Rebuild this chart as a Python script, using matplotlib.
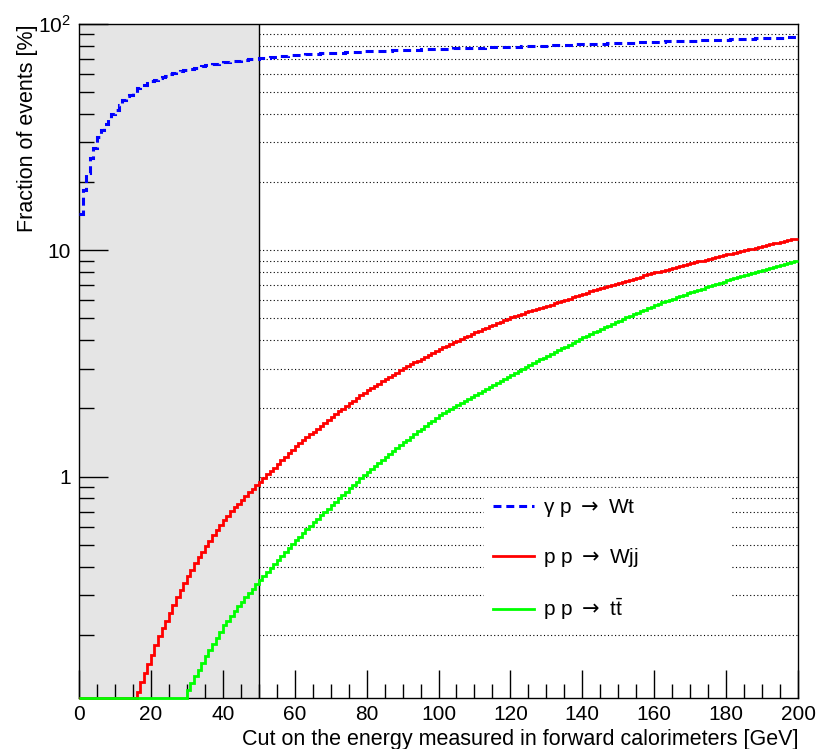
import numpy as np
import matplotlib
matplotlib.use('Agg')
import matplotlib.pyplot as plt
from matplotlib.lines import Line2D
from matplotlib.ticker import FixedLocator, FixedFormatter, NullFormatter, MultipleLocator

plt.rcParams['font.family'] = ['Liberation Sans', 'DejaVu Sans']
plt.rcParams['mathtext.fontset'] = 'custom'
plt.rcParams['mathtext.rm'] = 'Liberation Sans'
plt.rcParams['mathtext.sf'] = 'DejaVu Sans'
plt.rcParams['mathtext.default'] = 'regular'

# 1 GeV bins from 0 to 200 GeV, fraction of events passing the cut [%]
bin_edges = np.arange(0, 201)

gamma_p_wt = [
    14.4, 18.5, 22.0, 25.5, 28.4, 31.7, 33.9, 36.3, 38.2, 39.9,
    41.6, 43.8, 46.0, 47.9, 48.6, 49.3, 52.2, 52.8, 54.0, 55.0,
    55.9, 56.7, 57.5, 58.4, 59.2, 60.0, 60.6, 61.2, 61.8, 62.4,
    62.9, 63.5, 64.0, 64.6, 65.1, 65.6, 66.0, 66.4, 66.8, 67.2,
    67.6, 67.9, 68.3, 68.6, 68.9, 69.2, 69.5, 69.8, 70.0, 70.2,
    70.5, 70.8, 71.1, 71.4, 71.6, 71.9, 72.1, 72.4, 72.6, 72.8,
    73.0, 73.2, 73.3, 73.5, 73.6, 73.8, 73.9, 74.1, 74.2, 74.4,
    74.5, 74.6, 74.7, 74.8, 75.0, 75.1, 75.2, 75.3, 75.4, 75.6,
    75.7, 75.8, 75.9, 76.0, 76.1, 76.2, 76.3, 76.4, 76.5, 76.6,
    76.7, 76.8, 76.9, 77.0, 77.1, 77.2, 77.3, 77.3, 77.4, 77.5,
    77.6, 77.7, 77.8, 77.9, 78.0, 78.1, 78.2, 78.3, 78.3, 78.4,
    78.5, 78.6, 78.7, 78.8, 78.8, 78.9, 79.0, 79.0, 79.1, 79.2,
    79.3, 79.4, 79.5, 79.6, 79.7, 79.8, 79.9, 80.0, 80.1, 80.2,
    80.3, 80.4, 80.5, 80.6, 80.7, 80.8, 81.0, 81.1, 81.2, 81.3,
    81.4, 81.5, 81.6, 81.7, 81.8, 81.9, 82.0, 82.1, 82.2, 82.3,
    82.4, 82.5, 82.6, 82.7, 82.8, 82.9, 83.0, 83.1, 83.2, 83.3,
    83.4, 83.5, 83.6, 83.7, 83.8, 83.9, 84.0, 84.1, 84.2, 84.3,
    84.4, 84.5, 84.6, 84.7, 84.8, 84.9, 85.0, 85.1, 85.2, 85.3,
    85.4, 85.5, 85.6, 85.7, 85.8, 86.0, 86.1, 86.2, 86.3, 86.4,
    86.5, 86.6, 86.7, 86.8, 87.0, 87.1, 87.2, 87.4, 87.5, 87.7,
]

pp_wjj = [0.0] * 16 + [
    0.112, 0.124, 0.136, 0.148,
    0.163, 0.180, 0.197, 0.214, 0.231, 0.249, 0.270, 0.292, 0.316, 0.339,
    0.362, 0.387, 0.413, 0.439, 0.465, 0.491, 0.521, 0.551, 0.582, 0.613,
    0.644, 0.672, 0.701, 0.730, 0.759, 0.789, 0.820, 0.851, 0.884, 0.917,
    0.950, 0.985, 1.021, 1.058, 1.096, 1.136, 1.178, 1.220, 1.265, 1.311,
    1.358, 1.400, 1.444, 1.488, 1.534, 1.581, 1.630, 1.680, 1.732, 1.786,
    1.841, 1.891, 1.943, 1.996, 2.050, 2.106, 2.164, 2.223, 2.284, 2.346,
    2.410, 2.464, 2.520, 2.577, 2.635, 2.694, 2.755, 2.817, 2.880, 2.945,
    3.013, 3.072, 3.132, 3.194, 3.256, 3.319, 3.384, 3.450, 3.517, 3.586,
    3.656, 3.719, 3.783, 3.848, 3.914, 3.981, 4.050, 4.119, 4.190, 4.262,
    4.335, 4.404, 4.473, 4.544, 4.616, 4.688, 4.762, 4.837, 4.914, 4.991,
    5.070, 5.129, 5.188, 5.248, 5.309, 5.370, 5.433, 5.495, 5.559, 5.623,
    5.689, 5.758, 5.829, 5.900, 5.972, 6.046, 6.120, 6.195, 6.272, 6.349,
    6.427, 6.500, 6.574, 6.648, 6.724, 6.800, 6.877, 6.955, 7.034, 7.114,
    7.194, 7.269, 7.345, 7.421, 7.499, 7.577, 7.656, 7.736, 7.816, 7.898,
    7.980, 8.056, 8.132, 8.209, 8.287, 8.366, 8.445, 8.525, 8.606, 8.688,
    8.770, 8.849, 8.929, 9.009, 9.090, 9.172, 9.255, 9.338, 9.423, 9.507,
    9.594, 9.676, 9.759, 9.842, 9.927, 10.01, 10.10, 10.18, 10.27, 10.36,
    10.45, 10.54, 10.63, 10.72, 10.81, 10.90, 10.99, 11.08, 11.17, 11.26,
]

pp_ttbar = [0.0] * 30 + [
    0.1140, 0.1222, 0.1309, 0.1403, 0.1503, 0.1611, 0.1714, 0.1824, 0.1941, 0.2065,
    0.2198, 0.2307, 0.2421, 0.2541, 0.2667, 0.2799, 0.2924, 0.3055, 0.3192, 0.3334,
    0.3483, 0.3629, 0.3781, 0.3939, 0.4104, 0.4276, 0.4453, 0.4634, 0.4825, 0.5023,
    0.5229, 0.5425, 0.5629, 0.5840, 0.6060, 0.6287, 0.6508, 0.6737, 0.6974, 0.7219,
    0.7472, 0.7731, 0.7999, 0.8277, 0.8564, 0.8861, 0.9169, 0.9486, 0.9815, 1.0155,
    1.0507, 1.083, 1.116, 1.150, 1.184, 1.220, 1.257, 1.296, 1.335, 1.376,
    1.418, 1.457, 1.498, 1.540, 1.583, 1.627, 1.673, 1.720, 1.768, 1.817,
    1.868, 1.907, 1.947, 1.988, 2.030, 2.073, 2.116, 2.161, 2.206, 2.252,
    2.299, 2.346, 2.394, 2.443, 2.493, 2.544, 2.596, 2.649, 2.703, 2.759,
    2.815, 2.871, 2.928, 2.985, 3.044, 3.105, 3.166, 3.228, 3.292, 3.357,
    3.423, 3.487, 3.552, 3.618, 3.685, 3.754, 3.823, 3.895, 3.967, 4.041,
    4.116, 4.188, 4.261, 4.335, 4.411, 4.487, 4.566, 4.645, 4.726, 4.808,
    4.892, 4.969, 5.048, 5.128, 5.209, 5.291, 5.375, 5.460, 5.546, 5.634,
    5.723, 5.800, 5.878, 5.957, 6.037, 6.118, 6.200, 6.283, 6.368, 6.453,
    6.540, 6.617, 6.695, 6.774, 6.854, 6.934, 7.016, 7.099, 7.183, 7.268,
    7.354, 7.432, 7.511, 7.591, 7.672, 7.753, 7.836, 7.919, 8.004, 8.089,
    8.174, 8.260, 8.346, 8.433, 8.521, 8.610, 8.700, 8.790, 8.882, 8.974,
]

arrow = r' $\mathsf{\rightarrow}$ '
labels = [r'$\gamma$ p' + arrow + 'Wt',
          'p p' + arrow + 'Wjj',
          'p p' + arrow + r't$\bar{t}$']
colors = ['#0000ff', '#ff0000', '#00ff00']
cut_region = 50.0
x_max = 200.0
y_min, y_max = 0.105, 100.0
dash = (0, (2.6, 1.6))

fig = plt.figure(figsize=(8.21, 7.49), dpi=100)
ax = fig.add_axes([79 / 821, 51 / 749, 719 / 821, 674 / 749])
ax.set_yscale('log')
ax.set_xlim(0, x_max)
ax.set_ylim(y_min, y_max)

# region excluded by the cut
ax.axvspan(0, cut_region, color='#e5e5e5', lw=0, zorder=1)
ax.axvline(cut_region, color='black', lw=1.0, zorder=2)

# dotted horizontal grid at every decade step, right of the cut only
grid_y = [m * d for d in (0.1, 1, 10) for m in range(1, 10)] + [100]
grid_y = [g for g in grid_y if y_min < g < y_max]
ax.hlines(grid_y, cut_region, x_max, colors='black', lw=0.8,
          linestyles=[(0, (1, 2.2))], zorder=1.5)

def clip_empty(v):
    v = np.asarray(v, dtype=float)
    return np.where(v > 0, v, y_min)

# empty bins sit on the lower frame, so the histograms are not clipped
ax.stairs(clip_empty(gamma_p_wt), bin_edges, color=colors[0], lw=2.2,
          ls=dash, baseline=None, zorder=3, clip_on=False)
ax.stairs(clip_empty(pp_wjj), bin_edges, color=colors[1], lw=2.0,
          baseline=None, zorder=4, clip_on=False)
ax.stairs(clip_empty(pp_ttbar), bin_edges, color=colors[2], lw=2.0,
          baseline=None, zorder=5, clip_on=False)

# axis ticks
ax.xaxis.set_major_locator(MultipleLocator(20))
ax.xaxis.set_minor_locator(MultipleLocator(5))
ax.yaxis.set_major_locator(FixedLocator([1, 10, 100]))
ax.yaxis.set_major_formatter(FixedFormatter(['1', '10', '10$^{2}$']))
minor_y = [m * d for d in (0.1, 1, 10) for m in range(2, 10)]
ax.yaxis.set_minor_locator(FixedLocator(minor_y))
ax.yaxis.set_minor_formatter(NullFormatter())
ax.tick_params(axis='both', which='both', direction='in', top=False, right=False,
               labelsize=15, width=1.0, color='black')
ax.tick_params(axis='x', which='major', length=20, pad=5)
ax.tick_params(axis='x', which='minor', length=10)
ax.tick_params(axis='y', which='major', length=21, pad=6)
ax.tick_params(axis='y', which='minor', length=11)
for s in ax.spines.values():
    s.set_linewidth(1.0)
    s.set_zorder(2.6)

ax.set_xlabel('Cut on the energy measured in forward calorimeters [GeV]',
              fontsize=15.5, loc='right', labelpad=4)
ax.set_ylabel('Fraction of events [%]', fontsize=15.5, loc='top')
ax.yaxis.set_label_coords(-0.057, 1.0)

handles = [Line2D([], [], color=colors[0], lw=2.2, ls=dash),
           Line2D([], [], color=colors[1], lw=2.0),
           Line2D([], [], color=colors[2], lw=2.0)]
leg = ax.legend(handles, labels, loc='upper left',
                bbox_to_anchor=(0.563, 0.312, 0.341, 0.0), mode='expand',
                borderaxespad=0, fontsize=15, frameon=True, fancybox=False,
                framealpha=1, facecolor='white', edgecolor='white',
                handlelength=1.95, handletextpad=0.45, labelspacing=1.3,
                borderpad=0.45)
leg.set_zorder(6)

fig.savefig('out.png', dpi=100)
